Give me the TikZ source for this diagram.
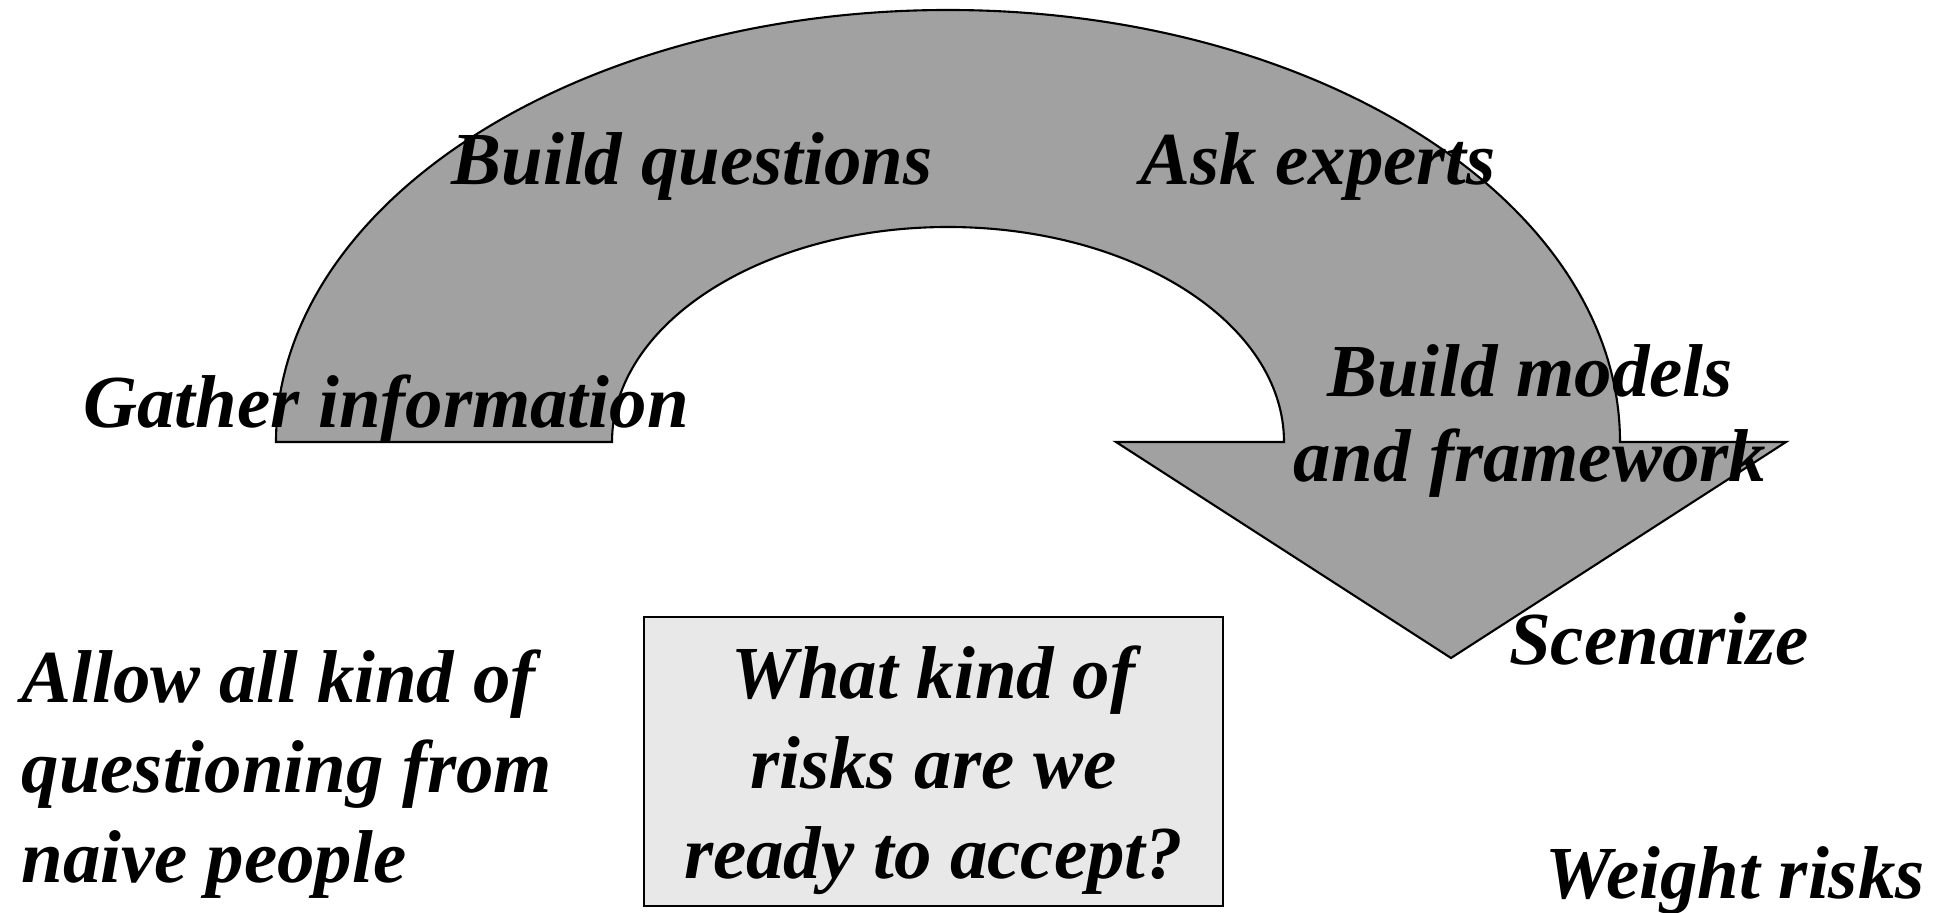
\documentclass[tikz,border=0pt]{standalone}
\usepackage{fontspec}
\setmainfont{Liberation Serif}
\definecolor{bandgray}{gray}{0.63}
\definecolor{boxgray}{gray}{0.91}
\tikzset{
  lbl/.style={font=\fontsize{21.3}{25.6}\selectfont\bfseries\itshape, anchor=base, inner sep=0pt},
}
\begin{document}
\begin{tikzpicture}
      \useasboundingbox (0,0) rectangle (19.49,9.12);

      % 弯曲箭头（外弧、箭头、内弧）
      \draw[fill=bandgray,line width=0.6pt,line join=miter]
        (2.76,4.70) arc[start angle=180,end angle=0,x radius=6.72,y radius=4.32]
        -- (17.86,4.70) -- (14.51,2.54) -- (11.16,4.70) -- (12.84,4.70)
        arc[start angle=0,end angle=180,x radius=3.36,y radius=2.15] -- cycle;

      % 沿箭头的各步骤
      \node[lbl] (gather) at (3.86,4.84) {Gather information};
      \node[lbl] (buildq) at (6.92,7.27) {Build questions};
      \node[lbl] (askexp) at (13.18,7.27) {Ask experts};
      \node[lbl,align=center] (buildm) at (15.30,4.30) {Build models\\[-1.4pt]and framework};
      \node[lbl] (scen) at (16.59,2.47) {Scenarize};
      \node[lbl] (weigh) at (17.35,0.14) {Weight risks};

      % 左下说明（base 取末行基线）
      \node[lbl,align=left,anchor=base west] (allow) at (0.21,0.30)
        {Allow all kind of\\questioning from\\naive people};

      % 中间问题框
      \node[draw,fill=boxgray,line width=0.6pt,minimum width=5.79cm,minimum height=2.89cm,inner sep=0pt]
        (qbox) at (9.335,1.505) {};
      \node[lbl,align=center] (question) at (9.335,0.34)
        {What kind of\\risks are we\\ready to accept?};
    \end{tikzpicture}
\end{document}
